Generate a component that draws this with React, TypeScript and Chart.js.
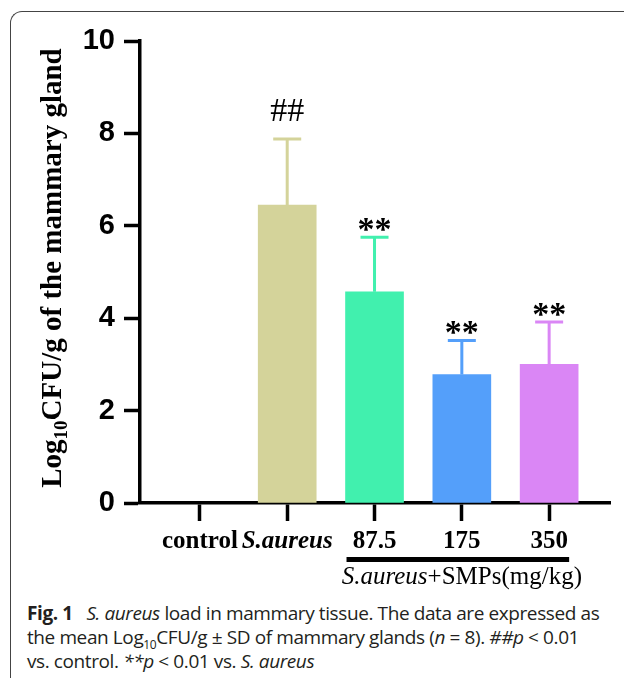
import React, { useEffect, useRef } from 'react';
import { Chart, registerables } from 'chart.js';

Chart.register(...registerables);

// ---- data ----
const categories = ['control', 'S.aureus', '87.5', '175', '350'];
const means = [0, 6.45, 4.57, 2.78, 3.0];
const sds = [0, 1.43, 1.18, 0.74, 0.92];
const marks = ['', '##', '**', '**', '**'];
const barColors = ['rgba(0,0,0,0)', '#D4D39A', '#41F0AE', '#549FFA', '#DA86F5'];
const yTickValues = [0, 2, 4, 6, 8, 10];
const yTitleParts = ['Log', '10', 'CFU/g of the mammary gland'];
const groupMembers = [2, 3, 4];
const groupTitleParts = ['S.aureus', '+SMPs(mg/kg)'];

const SERIF = '"Liberation Serif", "Times New Roman", serif';
const SANS = '"Liberation Sans", Arial, sans-serif';

const overlayPlugin = {
  id: 'overlay',
  afterDraw(chart: any) {
    const { ctx, scales, chartArea } = chart;
    const x = scales.x;
    const y = scales.y;
    ctx.save();
    // error bars + significance marks
    means.forEach((m, i) => {
      const px = x.getPixelForValue(i);
      if (sds[i] > 0) {
        const top = y.getPixelForValue(m + sds[i]);
        const base = y.getPixelForValue(m);
        ctx.strokeStyle = barColors[i];
        ctx.lineWidth = 3;
        ctx.lineCap = 'butt';
        ctx.beginPath();
        ctx.moveTo(px, base);
        ctx.lineTo(px, top);
        ctx.moveTo(px - 14, top);
        ctx.lineTo(px + 14, top);
        ctx.stroke();
      }
      if (marks[i]) {
        const top = y.getPixelForValue(m + sds[i]);
        ctx.fillStyle = '#000';
        ctx.textAlign = 'center';
        ctx.textBaseline = 'alphabetic';
        if (marks[i].startsWith('#')) {
          ctx.font = `34px ${SERIF}`;
          ctx.fillText(marks[i], px, top - 18);
        } else {
          ctx.font = `bold 34px ${SERIF}`;
          ctx.fillText(marks[i], px, top + 3);
        }
      }
    });

    // group bracket + title
    const gx0 = x.getPixelForValue(groupMembers[0]) - 28;
    const gx1 = x.getPixelForValue(groupMembers[groupMembers.length - 1]) + 20;
    ctx.fillStyle = '#000';
    ctx.fillRect(gx0, 557, gx1 - gx0, 5);
    const italicFont = `italic 25px ${SERIF}`;
    const normalFont = `25px ${SERIF}`;
    ctx.font = italicFont;
    const w0 = ctx.measureText(groupTitleParts[0]).width;
    ctx.font = normalFont;
    const w1 = ctx.measureText(groupTitleParts[1]).width;
    const cx = x.getPixelForValue(groupMembers[1]);
    const sx = cx - (w0 + w1) / 2;
    ctx.textAlign = 'left';
    ctx.textBaseline = 'alphabetic';
    ctx.font = italicFont;
    ctx.fillText(groupTitleParts[0], sx, 584);
    ctx.font = normalFont;
    ctx.fillText(groupTitleParts[1], sx + w0, 584);

    // rotated y title
    const mainFont = `bold 29px ${SERIF}`;
    const subFont = `bold 19px ${SERIF}`;
    const fonts = [mainFont, subFont, mainFont];
    const shifts = [0, 6, 0];
    const widths = yTitleParts.map((t, i) => {
      ctx.font = fonts[i];
      return ctx.measureText(t).width;
    });
    const total = widths.reduce((a, b) => a + b, 0);
    const cy = (chartArea.top + chartArea.bottom) / 2 - 4;
    ctx.translate(61, cy);
    ctx.rotate(-Math.PI / 2);
    let lx = -total / 2;
    yTitleParts.forEach((t, i) => {
      ctx.font = fonts[i];
      ctx.fillText(t, lx, shifts[i]);
      lx += widths[i];
    });
    ctx.restore();
  },
};

function ChartCanvas() {
  const ref = useRef<HTMLCanvasElement | null>(null);
  useEffect(() => {
    if (!ref.current) return;
    const chart = new Chart(ref.current, {
      type: 'bar',
      data: {
        datasets: [
          {
            data: means.map((v, i) => ({ x: i, y: v })),
            backgroundColor: barColors,
            borderWidth: 0,
            barThickness: 58,
          },
        ],
      },
      options: {
        animation: false,
        responsive: false,
        devicePixelRatio: 1,
        layout: { padding: { top: 41, right: 14, left: 0, bottom: 0 } },
        plugins: {
          legend: { display: false },
          tooltip: { enabled: false },
        },
        scales: {
          x: {
            type: 'linear',
            min: -0.686,
            max: 4.697,
            offset: false,
            z: 1,
            afterBuildTicks: (scale: any) => {
              scale.ticks = categories.map((_, i) => ({ value: i }));
            },
            afterFit: (scale: any) => {
              scale.height = 92;
            },
            grid: {
              drawOnChartArea: false,
              offset: false,
              tickLength: 18,
              tickWidth: 3.5,
              color: '#000',
            },
            border: { display: true, width: 3.5, color: '#000' },
            ticks: {
              autoSkip: false,
              maxRotation: 0,
              minRotation: 0,
              padding: 6,
              color: '#000',
              callback: (v: any) => categories[v] ?? '',
              font: (c: any) => ({
                family: SERIF,
                size: 25,
                weight: 'bold',
                style: c.tick && c.tick.value === 1 ? 'italic' : 'normal',
              }),
            },
          },
          y: {
            min: 0,
            max: 10,
            z: 1,
            afterBuildTicks: (scale: any) => {
              scale.ticks = yTickValues.map((v) => ({ value: v }));
            },
            afterFit: (scale: any) => {
              scale.width = 140;
            },
            grid: {
              drawOnChartArea: false,
              tickLength: 16,
              tickWidth: 3.5,
              color: '#000',
            },
            border: { display: true, width: 3.5, color: '#000' },
            ticks: {
              padding: 9,
              color: '#000',
              font: { family: SANS, size: 29, weight: 'bold' },
            },
          },
        },
      },
      plugins: [overlayPlugin],
    } as any);
    return () => chart.destroy();
  }, []);
  return (
    <canvas
      ref={ref}
      width={624}
      height={595}
      style={{ position: 'absolute', left: 0, top: 0, width: 624, height: 595 }}
    />
  );
}

export default function App() {
  return (
    <div
      style={{
        position: 'fixed',
        left: 0,
        top: 0,
        width: 624,
        height: 678,
        overflow: 'hidden',
        background: '#fff',
      }}
    >
      <div
        style={{
          position: 'absolute',
          left: 10,
          top: 11,
          width: 800,
          height: 800,
          borderLeft: '1px solid #444',
          borderTop: '1px solid #444',
          borderTopLeftRadius: 12,
        }}
      />
      <ChartCanvas />
      <div
        style={{
          position: 'absolute',
          left: 27,
          top: 601,
          width: 600,
          fontFamily: '"Open Sans", "Noto Sans", sans-serif',
          fontSize: 19,
          lineHeight: '24px',
          color: '#231f20',
          whiteSpace: 'nowrap',
          letterSpacing: '-0.4px',
        }}
      >
        <b>Fig. 1</b>&nbsp;&nbsp; <i>S. aureus</i> load in mammary tissue. The data are expressed as
        <br />
        the mean Log<sub style={{ fontSize: 12, lineHeight: 0 }}>10</sub>CFU/g ± SD of mammary glands (<i>n</i> = 8). <i>##p</i> &lt; 0.01
        <br />
        vs. control. <i>**p</i> &lt; 0.01 vs. <i>S. aureus</i>
      </div>
    </div>
  );
}
